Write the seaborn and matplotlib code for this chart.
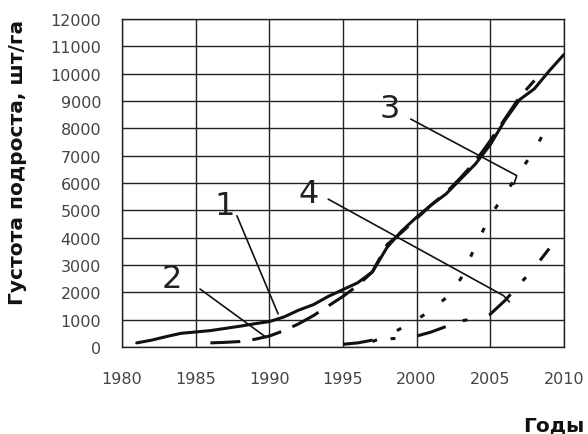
import pandas as pd
import seaborn as sns
import matplotlib.pyplot as plt

# curve data (year, seedlings per ha)
years_1 = [1981, 1982, 1983, 1984, 1985, 1986, 1987, 1988, 1989, 1990,
           1991, 1992, 1993, 1994, 1995, 1996, 1997, 1998, 1999, 2000,
           2001, 2002, 2003, 2004, 2005, 2006, 2007, 2008, 2009, 2010]
dens_1 = [150, 250, 380, 500, 550, 600, 680, 760, 850, 930,
          1100, 1350, 1550, 1850, 2100, 2350, 2750, 3650, 4250, 4750,
          5200, 5600, 6150, 6700, 7400, 8300, 9050, 9450, 10100, 10700]

years_2 = [1986, 1987, 1988, 1989, 1990, 1991, 1992, 1993, 1994, 1995,
           1996, 1997, 1998, 1999, 2000, 2001, 2002, 2003, 2004, 2005,
           2006, 2007, 2008]
dens_2 = [150, 170, 200, 280, 400, 600, 850, 1150, 1500, 1850,
          2250, 2750, 3750, 4200, 4700, 5200, 5650, 6200, 6800, 7550,
          8350, 9150, 9750]

years_3 = [1997, 1998, 1999, 2000, 2001, 2002, 2003, 2004, 2005,
           2006, 2007, 2008, 2009]
dens_3 = [200, 400, 700, 1000, 1350, 1800, 2500, 3700, 4800,
          5600, 6400, 7200, 8200]

years_4 = [1995, 1996, 1997, 1998, 1999, 2000, 2001, 2002, 2003,
           2004, 2005, 2006, 2007, 2008, 2009]
dens_4 = [100, 150, 250, 300, 320, 400, 550, 750, 950,
          1050, 1200, 1700, 2300, 2900, 3600]

year_ticks = [1980, 1985, 1990, 1995, 2000, 2005, 2010]
dens_ticks = list(range(0, 12001, 1000))

# label number, text position, pointer start, pointer end(s)
labels = ['1', '2', '3', '4']
label_xy = [(1987.0, 5170), (1983.4, 2490), (1998.2, 8710), (1992.65, 5600)]
pointers = [
    [(1987.8, 4800), (1990.6, 1210)],
    [(1985.3, 2120), (1989.8, 350)],
    [(1999.6, 8340), (2006.8, 6270), (2006.6, 5950)],
    [(1994.0, 5410), (2005.9, 1880), (2006.3, 1650)],
]

df = pd.concat([
    pd.DataFrame({'year': years_1, 'dens': dens_1, 'curve': '1'}),
    pd.DataFrame({'year': years_2, 'dens': dens_2, 'curve': '2'}),
    pd.DataFrame({'year': years_3, 'dens': dens_3, 'curve': '3'}),
    pd.DataFrame({'year': years_4, 'dens': dens_4, 'curve': '4'}),
])

sns.set_theme(style='white')
plt.rcParams['font.family'] = ['DejaVu Sans']

fig = plt.figure(figsize=(5.88, 4.35), dpi=100)
ax = fig.add_axes([0.2075, 0.2, 0.7515, 0.754])

sns.lineplot(data=df, x='year', y='dens', style='curve',
             dashes={'1': '', '2': (9.8, 4), '3': (1.6, 7.2), '4': (9.8, 5.9, 1.6, 7.2)},
             color='#111111', linewidth=2.2, legend=False, ax=ax, sort=False)

ax.set_xlim(1980, 2010)
ax.set_ylim(0, 12000)
ax.set_xticks(year_ticks)
ax.set_yticks(dens_ticks)
ax.grid(True, color='#222222', linewidth=1.0)
for s in ax.spines.values():
    s.set_color('#222222')
    s.set_linewidth(1.0)
ax.tick_params(direction='inout', length=7, width=1.0, color='#222222',
               labelsize=11.5, labelcolor='#444444')
ax.tick_params(axis='x', pad=14)
ax.tick_params(axis='y', pad=11.5)
ax.set_xlabel('')
ax.set_ylabel('')

fig.text(554 / 588, 1 - 431 / 435, 'Годы', fontsize=14.5, fontweight='bold',
         color='#111111', ha='center', va='baseline')
fig.text(17.5 / 588, 1 - 162 / 435, 'Густота подроста, шт/га', fontsize=14.5,
         fontweight='bold', color='#111111', rotation=90, ha='center', va='center')

for lab, (tx, ty), pts in zip(labels, label_xy, pointers):
    ax.text(tx, ty, lab, fontsize=23, ha='center', va='center', color='#222222')
    ax.plot([p[0] for p in pts], [p[1] for p in pts], color='#111111', lw=1.2)

fig.savefig('out.png', dpi=100)
